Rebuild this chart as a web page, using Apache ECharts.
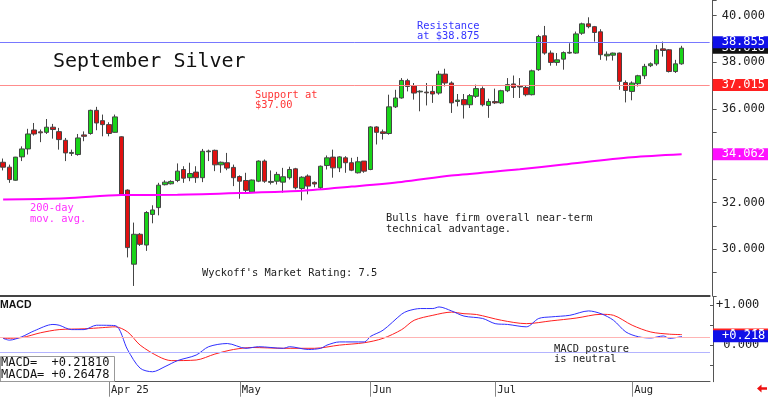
<!DOCTYPE html>
<html><head><meta charset="utf-8">
<script src="https://cdn.jsdelivr.net/npm/echarts@6/dist/echarts.min.js"></script>
<style>html,body{margin:0;padding:0;background:#fff}#c{width:768px;height:398px}</style>
</head><body><div id="c"></div>
<script>
const dates = ['2025-03-07','2025-03-10','2025-03-11','2025-03-12','2025-03-13','2025-03-14','2025-03-17','2025-03-18','2025-03-19','2025-03-20','2025-03-21','2025-03-24','2025-03-25','2025-03-26','2025-03-27','2025-03-28','2025-03-31',
'2025-04-01','2025-04-02','2025-04-03','2025-04-04','2025-04-07','2025-04-08','2025-04-09','2025-04-10','2025-04-11','2025-04-14','2025-04-15','2025-04-16','2025-04-17','2025-04-21','2025-04-22','2025-04-23','2025-04-24','2025-04-25','2025-04-28','2025-04-29','2025-04-30',
'2025-05-01','2025-05-02','2025-05-05','2025-05-06','2025-05-07','2025-05-08','2025-05-09','2025-05-12','2025-05-13','2025-05-14','2025-05-15','2025-05-16','2025-05-19','2025-05-20','2025-05-21','2025-05-22','2025-05-23','2025-05-27','2025-05-28','2025-05-29','2025-05-30',
'2025-06-02','2025-06-03','2025-06-04','2025-06-05','2025-06-06','2025-06-09','2025-06-10','2025-06-11','2025-06-12','2025-06-13','2025-06-16','2025-06-17','2025-06-18','2025-06-20','2025-06-23','2025-06-24','2025-06-25','2025-06-26','2025-06-27','2025-06-30',
'2025-07-01','2025-07-02','2025-07-03','2025-07-07','2025-07-08','2025-07-09','2025-07-10','2025-07-11','2025-07-14','2025-07-15','2025-07-16','2025-07-17','2025-07-18','2025-07-21','2025-07-22','2025-07-23','2025-07-24','2025-07-25','2025-07-28','2025-07-29','2025-07-30','2025-07-31',
'2025-08-01','2025-08-04','2025-08-05','2025-08-06','2025-08-07','2025-08-08','2025-08-11','2025-08-12','2025-08-13'];

const opens = [33.72,33.51,32.95,33.95,34.29,35.10,35.02,35.00,35.22,35.03, 34.66,34.10,34.05,34.89,34.95,35.94,35.50,35.33,35.00,34.81, 32.53,29.36,30.64,30.18,31.49,31.78,32.76,32.80,32.94,33.41, 33.06,33.30,33.06,34.17,34.23,33.61,33.70,33.50,33.11,32.94, 32.44,32.91,33.77,32.86,32.91,32.87,33.06,33.44,32.60,33.13, 32.86,32.63,33.58,33.94,33.48,33.91,33.70,33.27,33.77,33.41, 35.23,35.02,34.95,36.09,36.47,37.21,36.99,36.73,36.72,36.75, 36.68,37.49,37.11,36.32,36.40,36.18,36.54,36.87,36.15,36.32, 36.26,36.78,37.07,36.98,36.92,36.61,37.68,39.13,38.39,37.99, 38.13,38.39,38.39,39.24,39.64,39.52,39.30,38.27,38.30,38.39, 37.13,36.75,37.08,37.42,37.85,37.93,38.57,38.53,37.60,37.93];
const closes = [33.51,32.98,33.94,34.29,34.93,34.93,34.98,35.22,35.12,34.69, 34.12,34.14,34.76,34.83,35.94,35.40,35.33,34.95,35.66,32.35, 30.07,30.64,30.21,31.57,31.68,32.74,32.87,32.90,33.34,33.04, 33.24,33.06,34.19,34.20,33.61,33.72,33.47,33.06,32.91,32.52, 32.96,33.77,32.91,32.90,33.20,33.10,33.41,32.63,33.08,32.70, 32.79,33.55,33.91,33.48,33.95,33.70,33.38,33.74,33.34,35.23, 35.00,34.95,36.09,36.47,37.22,36.96,36.68,36.76,36.69,36.64, 37.49,37.11,36.26,36.38,36.18,36.57,36.87,36.18,36.32,36.26, 36.78,37.04,36.92,36.94,36.61,37.63,39.10,38.39,37.99,38.10, 38.41,38.42,39.21,39.64,39.52,39.27,38.32,38.34,38.39,37.18, 36.79,37.11,37.42,37.82,37.93,38.53,38.50,37.60,37.93,38.60];
const lows = [33.37,32.84,32.93,33.77,34.05,34.86,34.58,34.93,34.73,34.26, 33.77,33.99,34.00,34.62,34.90,35.09,34.83,34.83,34.98,32.30, 29.65,28.43,30.14,29.93,31.11,31.45,32.73,32.77,32.87,32.84, 32.91,32.84,32.87,33.77,33.34,33.27,33.38,32.70,32.16,32.44, 32.42,32.87,32.84,32.77,32.77,32.42,32.98,32.56,32.09,32.35, 32.65,32.56,33.41,33.06,33.30,33.27,33.34,33.24,33.27,33.38, 34.48,34.69,34.90,36.04,36.44,36.75,36.40,35.90,36.15,36.26, 36.61,36.96,35.83,36.11,35.59,36.04,36.47,36.11,35.62,36.21, 36.21,36.72,36.47,36.47,36.54,36.58,37.63,38.32,37.85,37.85, 37.68,38.36,38.36,39.17,39.45,38.88,38.10,38.07,38.07,36.82, 36.28,36.37,36.96,37.28,37.79,37.85,38.24,37.56,37.54,37.89];
const highs = [33.88,33.62,33.95,34.40,35.15,35.40,35.12,35.57,35.36,35.19, 34.76,34.26,34.93,35.04,35.97,36.09,35.76,35.43,35.76,34.83, 32.56,31.14,30.69,31.63,31.88,32.84,32.95,32.95,33.67,33.55, 33.70,33.55,34.29,34.26,34.26,33.75,34.12,33.62,33.16,33.27, 32.98,33.80,33.84,33.37,33.31,33.48,33.53,33.48,33.12,33.20, 32.90,33.58,34.01,34.26,33.98,33.98,33.91,33.95,33.77,35.26, 35.26,35.12,36.61,36.82,37.32,37.29,37.11,36.80,37.11,37.01, 37.63,37.72,37.18,36.64,36.64,36.64,37.04,36.96,36.44,36.87, 36.82,37.32,37.43,37.32,37.00,37.68,39.17,39.55,38.50,38.39, 38.46,38.81,39.31,39.69,39.92,39.55,39.41,38.46,38.41,38.41, 37.22,37.18,37.46,37.93,37.99,38.74,38.88,38.56,38.10,38.70];

// 200-day moving average, read at these bar indices
const maIdx = [0,10,19,28,40,48,56,64,72,83,90,101,109];
const maVals = [32.13,32.18,32.32,32.33,32.42,32.50,32.68,32.88,33.15,33.42,33.62,33.93,34.06];

// MACD (blue) and MACDA (red), read at these bar indices
const macdIdx = [0,1,3,5,8,9,11,13,15,18,20,22,24,26,28,31,33,36,39,41,45,46,49,51,52,54,58,59,61,64,65,67,69,70,72,74,77,79,81,84,86,88,91,94,96,98,100,102,104,106,107,109];
const macdVals = [0.17,0.125,0.21,0.36,0.52,0.50,0.39,0.39,0.50,0.49,-0.12,-0.58,-0.67,-0.54,-0.39,-0.25,-0.04,0.04,-0.08,-0.04,-0.08,-0.04,-0.11,-0.08,0.0,0.08,0.08,0.22,0.375,0.78,0.86,0.92,0.92,0.96,0.86,0.73,0.67,0.54,0.52,0.46,0.67,0.71,0.75,0.86,0.79,0.625,0.33,0.21,0.18,0.23,0.17,0.218];
const macdaIdx = [0,3,6,9,13,16,18,20,22,25,27,31,34,37,40,45,50,54,58,61,64,66,69,72,74,76,80,84,88,92,96,98,101,104,107,109];
const macdaVals = [0.17,0.19,0.31,0.39,0.41,0.44,0.46,0.33,0.0,-0.29,-0.39,-0.375,-0.225,-0.11,-0.06,-0.08,-0.08,0.0,0.06,0.17,0.39,0.625,0.75,0.83,0.79,0.77,0.625,0.54,0.61,0.68,0.775,0.75,0.5,0.33,0.275,0.265];

const monthTickDates = ['2025-04-01','2025-05-01','2025-06-02','2025-07-01','2025-08-01'];
const monthTickLabels = ['Apr 25','May','Jun','Jul','Aug'];
const priceLabels = [30,32,34,36,38,40];
const macdLabels = [0,1];
const macdTicks = [-0.5,0,0.5,1];

const resistance = 38.855, lastClose = 38.618, support = 37.015, maLast = 34.062;
const macdLast = 0.218, macdaLast = 0.265;
const macdRefHi = 0.19, macdRefLo = -0.19;
const macdText = ['MACD=  +0.21810', 'MACDA= +0.26478'];

const FONT = '"DejaVu Sans Mono", monospace';
const chart = echarts.init(document.getElementById('c'));
const candleData = opens.map((o, i) => [o, closes[i], lows[i], highs[i]]);
const isMonth = (i) => monthTickDates.indexOf(dates[i]) >= 0;

function tag(value, bg, lineColor, showLine, text) {
  return {
    yAxis: value,
    lineStyle: { color: showLine ? lineColor : 'rgba(0,0,0,0)', width: 1, type: 'solid' },
    label: { show: true, position: 'end', formatter: text, backgroundColor: bg, color: '#fff',
      fontFamily: FONT, fontSize: 12, lineHeight: 12, padding: [0, 8, 0, 9], distance: 3 }
  };
}
function refLine(value, color) {
  return { yAxis: value, lineStyle: { color: color, width: 1, type: 'solid' }, label: { show: false } };
}
function txt(x, y, s, fill, font) {
  return { type: 'text', x: x, y: y, z: 100, style: { text: s, fill: fill, font: font || ('10.4px ' + FONT), verticalAlign: 'middle' } };
}

const option = {
  animation: false,
  backgroundColor: '#fff',
  grid: [
    { left: 0, top: 0, width: 710, height: 296 },
    { left: 0, top: 297, width: 710, height: 84.7 }
  ],
  xAxis: [
    { type: 'category', gridIndex: 0, data: dates, max: 113, boundaryGap: true,
      axisLine: { onZero: false, lineStyle: { color: '#444', width: 2 } }, axisTick: { show: false }, axisLabel: { show: false }, splitLine: { show: false } },
    { type: 'category', gridIndex: 1, data: dates, max: 113, boundaryGap: true, position: 'bottom',
      axisLine: { onZero: false, lineStyle: { color: '#555', width: 1 } },
      axisTick: { show: true, alignWithLabel: true, interval: (i) => isMonth(i), length: 15, lineStyle: { color: '#888' } },
      axisLabel: { interval: (i) => isMonth(i), formatter: (v) => { const k = monthTickDates.indexOf(v); return k >= 0 ? monthTickLabels[k] : ''; },
        align: 'left', padding: [0, 0, 0, 2], margin: 3, fontFamily: FONT, fontSize: 10.5, color: '#222' },
      splitLine: { show: false } }
  ],
  yAxis: [
    { type: 'value', gridIndex: 0, position: 'right', offset: 3, min: 28, max: 40.66, interval: 1,
      axisLine: { show: true, lineStyle: { color: '#555' } },
      axisTick: { show: true, length: 4, lineStyle: { color: '#555' } },
      axisLabel: { margin: 9, fontFamily: FONT, fontSize: 12, color: '#222',
        formatter: (v) => priceLabels.indexOf(v) >= 0 ? v.toFixed(3) : '' },
      splitLine: { show: false } },
    { type: 'value', gridIndex: 1, position: 'right', offset: 3, min: -0.92, max: 1.21,
      axisLine: { show: true, lineStyle: { color: '#555' } },
      axisTick: { show: true, inside: true, length: 3, customValues: macdTicks, lineStyle: { color: '#555' } },
      axisLabel: { margin: 3, customValues: macdLabels, fontFamily: FONT, fontSize: 12, color: '#222',
        formatter: (v) => v > 0 ? '+' + v.toFixed(3) : ' ' + Math.abs(v).toFixed(3) },
      splitLine: { show: false } }
  ],
  series: [
    { type: 'candlestick', xAxisIndex: 0, yAxisIndex: 0, data: candleData, barWidth: 5,
      itemStyle: { color: '#19d419', color0: '#e01010', borderColor: '#454545', borderColor0: '#454545', borderWidth: 1 },
      markLine: { symbol: ['none', 'none'], silent: true, animation: false,
        data: [
          tag(lastClose, '#111', '#000', false, '38.618'),
          tag(resistance, '#1010e8', '#7878ff', true, '38.855'),
          tag(support, '#ff2020', '#ff8c8c', true, '37.015'),
          tag(maLast, '#ff10ff', '#ff00ff', false, '34.062')
        ] } },
    { type: 'line', xAxisIndex: 0, yAxisIndex: 0, data: maIdx.map((x, i) => [x, maVals[i]]),
      showSymbol: false, smooth: 0.3, lineStyle: { color: '#ff00ff', width: 2 } },
    { type: 'line', xAxisIndex: 1, yAxisIndex: 1, data: macdIdx.map((x, i) => [x, macdVals[i]]),
      showSymbol: false, smooth: 0.3, lineStyle: { color: '#3030ff', width: 1 }, z: 3 },
    { type: 'line', xAxisIndex: 1, yAxisIndex: 1, data: macdaIdx.map((x, i) => [x, macdaVals[i]]),
      showSymbol: false, smooth: 0.3, lineStyle: { color: '#ff2020', width: 1 }, z: 2,
      markLine: { symbol: ['none', 'none'], silent: true, animation: false,
        data: [
          refLine(macdRefHi, '#ffb4b4'),
          refLine(macdRefLo, '#b4b4ff'),
          tag(macdaLast, '#ff2020', '#ff2020', false, '+0.265'),
          tag(macdLast, '#1010e8', '#1010e8', false, '+0.218')
        ] } }
  ],
  graphic: [
    txt(53, 62, 'September Silver', '#111', '20px ' + FONT),
    txt(417, 26, 'Resistance', '#3535ff'),
    txt(417, 36, 'at $38.875', '#3535ff'),
    txt(255, 95, 'Support at', '#ff3535'),
    txt(255, 105, '$37.00', '#ff3535'),
    txt(30, 208, '200-day', '#ff30ff'),
    txt(30, 219, 'mov. avg.', '#ff30ff'),
    txt(386, 218, 'Bulls have firm overall near-term', '#222'),
    txt(386, 229, 'technical advantage.', '#222'),
    txt(202, 273, "Wyckoff's Market Rating: 7.5", '#222'),
    txt(554, 349, 'MACD posture', '#222'),
    txt(554, 359, 'is neutral', '#222'),
    txt(0, 305, 'MACD', '#111', 'bold 10.5px "Liberation Sans", sans-serif'),
    { type: 'rect', z: 99, shape: { x: 0.5, y: 356.5, width: 114, height: 25 }, style: { fill: '#fff', stroke: '#999', lineWidth: 1 } },
    txt(1, 362.5, macdText[0], '#111', '12px ' + FONT),
    txt(1, 374.5, macdText[1], '#111', '12px ' + FONT),
    { type: 'polygon', z: 100, shape: { points: [[757, 388.5], [761.5, 384.5], [761.5, 387.3], [767, 387.3], [767, 389.7], [761.5, 389.7], [761.5, 392.5]] }, style: { fill: '#ee1010' } }
  ]
};
chart.setOption(option);
</script>
</body></html>
